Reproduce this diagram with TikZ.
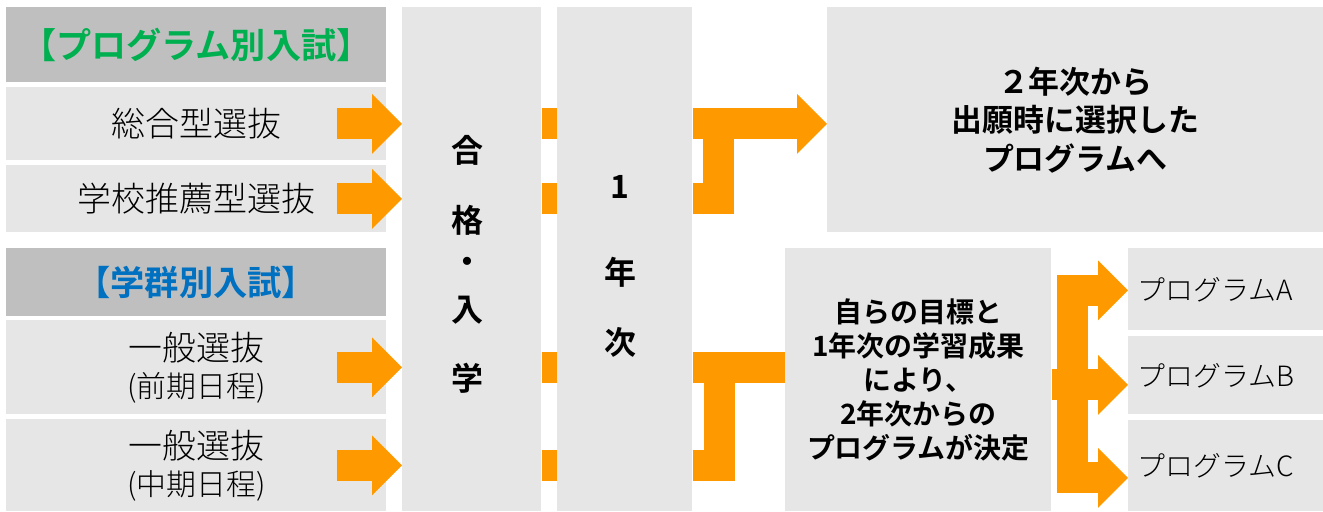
\documentclass[tikz,border=0pt]{standalone}
\usepackage{fontspec}
\setmainfont{Noto Sans CJK JP}[UprightFont={* Light}, BoldFont={* Bold}]
\usepackage{tikz}
\usetikzlibrary{arrows.meta}
\definecolor{boxgray}{HTML}{E6E6E6}
\definecolor{headgray}{HTML}{BFBFBF}
\definecolor{flowora}{HTML}{FF9900}
\definecolor{progreen}{HTML}{00B050}
\definecolor{gunblue}{HTML}{0070C0}

\begin{document}
\begin{tikzpicture}[x=0.02cm, y=-0.02cm,
    box/.style={fill=boxgray, inner sep=0pt, anchor=north west},
    headbox/.style={box, fill=headgray, minimum width=7.6cm},
    selbox/.style={box, minimum width=7.6cm, align=center, font=\fontsize{19.3}{21}\selectfont},
    progbox/.style={box, minimum width=3.9cm, inner xsep=0.18cm, text width=3.54cm, align=left, font=\fontsize{15.9}{19}\selectfont},
    colchar/.style={font=\fontsize{18.2}{20}\selectfont\bfseries},
    orabar/.style={draw=flowora, line width=0.62cm},
    oraarrow/.style={orabar, -{Triangle[length=0.6cm, width=1.2cm, line width=0pt]}}]
      \useasboundingbox (0,0) rectangle (1323,511);

      % entrance routes
      \node[headbox, minimum height=1.5cm, text=progreen, font=\fontsize{20}{22}\selectfont\bfseries] (hdprog) at (6,7) {【プログラム別入試】};
      \node[selbox, minimum height=1.46cm] (sogo) at (6,87) {総合型選抜};
      \node[selbox, minimum height=1.34cm] (suisen) at (6,165) {学校推薦型選抜};
      \node[headbox, minimum height=1.36cm, text=gunblue, font=\fontsize{19.5}{22}\selectfont\bfseries] (hdgun) at (6,248) {【学群別入試】};
      \node[selbox, minimum height=1.88cm] (zenki) at (6,320) {一般選抜\\{\fontsize{17}{19}\selectfont (前期日程)}};
      \node[selbox, minimum height=1.84cm] (chuki) at (6,419) {一般選抜\\{\fontsize{17}{19}\selectfont (中期日程)}};

      % columns
      \node[box, minimum width=2.78cm, minimum height=10.08cm] (pass) at (402,7) {};
      \node[box, minimum width=2.7cm, minimum height=10.08cm] (year) at (557,7) {};
      \node[colchar] (pass1) at (467,150) {合};
      \node[colchar] (pass2) at (467,220) {格};
      \node[colchar] (pass3) at (467,265) {・};
      \node[colchar] (pass4) at (467,310) {入};
      \node[colchar] (pass5) at (467,378) {学};
      \node[colchar] (year1) at (620,187) {1};
      \node[colchar] (year2) at (620,272) {年};
      \node[colchar] (year3) at (620,342) {次};

      % second year
      \node[box, minimum width=9.92cm, minimum height=4.5cm, align=center, font=\fontsize{17.6}{21.9}\selectfont\bfseries] (next) at (827,7) {２年次から\\出願時に選択した\\プログラムへ};
      \node[box, minimum width=5.32cm, minimum height=5.26cm, align=center, font=\fontsize{15.9}{19.3}\selectfont\bfseries] (decide) at (785,248) {自らの目標と\\1年次の学習成果\\により、\\2年次からの\\プログラムが決定};
      \node[progbox, minimum height=1.64cm] (progA) at (1128,248) {プログラムA};
      \node[progbox, minimum height=1.56cm] (progB) at (1128,336) {プログラムB};
      \node[progbox, minimum height=1.82cm] (progC) at (1128,420) {プログラムC};

      % orange arrows
      \draw[oraarrow] ([xshift=-1cm]sogo.east) -- (sogo.east -| pass.west);
      \draw[oraarrow] ([xshift=-1cm]suisen.east) -- (suisen.east -| pass.west);
      \draw[oraarrow] ([xshift=-1cm]zenki.east) -- (zenki.east -| pass.west);
      \draw[oraarrow] ([xshift=-1cm]chuki.east) -- (chuki.east -| pass.west);
      \draw[orabar] (pass.east |- sogo.east) -- (year.west |- sogo.east);
      \draw[orabar] (pass.east |- suisen.east) -- (year.west |- suisen.east);
      \draw[orabar] (pass.east |- zenki.east) -- (year.west |- zenki.east);
      \draw[orabar] (pass.east |- chuki.east) -- (year.west |- chuki.east);

      \draw[oraarrow] (year.east |- sogo.east) -- (next.west |- sogo.east);
      \draw[orabar] (year.east |- suisen.east) -| ([xshift=0.51cm]year.east |- sogo.east);
      \draw[orabar] (year.east |- zenki.east) -- (decide.west |- zenki.east);
      \draw[orabar] (year.east |- chuki.east) -| ([xshift=0.54cm]year.east |- zenki.east);

      \coordinate (split) at ([xshift=0.42cm]decide.east);
      \draw[orabar, {Triangle[length=0.6cm, width=1.2cm, line width=0pt]}-{Triangle[length=0.6cm, width=1.2cm, line width=0pt]}]
        ([yshift=-0.02cm]progA.west) -| (split) |- ([yshift=-0.24cm]progC.west);
      \draw[oraarrow] ([yshift=-0.1cm]decide.east) -- ([yshift=-0.1cm]decide.east -| progB.west);
\end{tikzpicture}
\end{document}
